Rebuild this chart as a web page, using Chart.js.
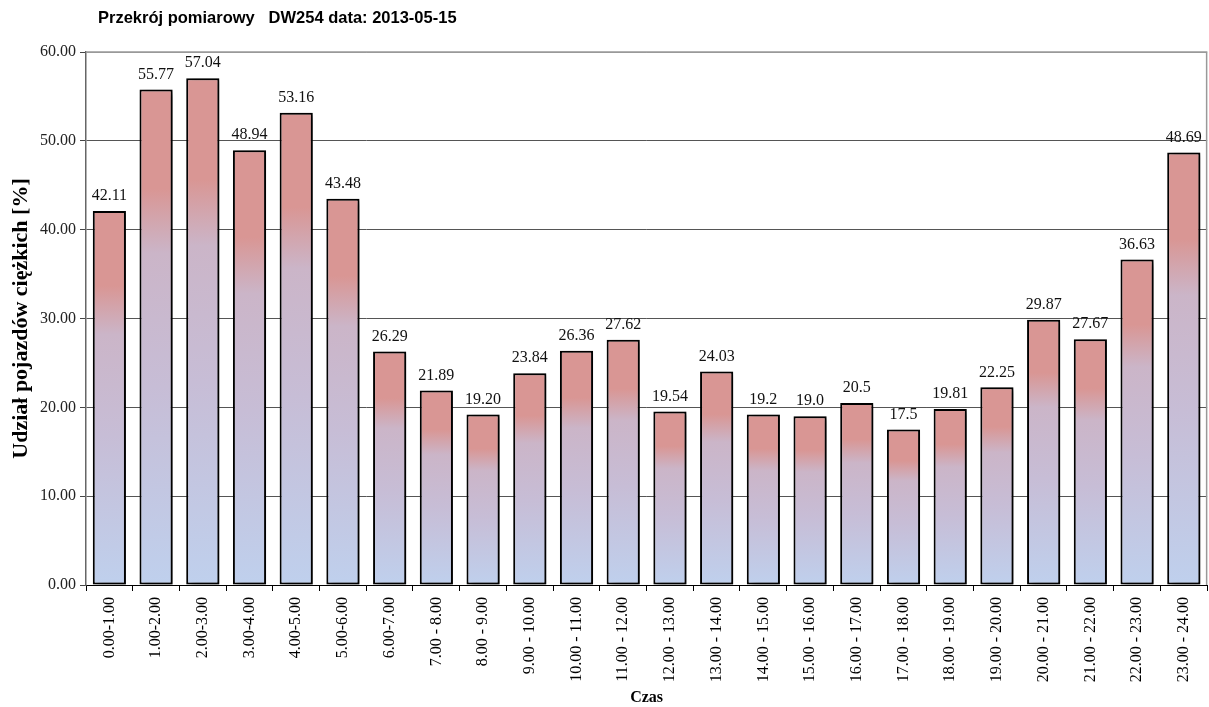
<!DOCTYPE html>
<html>
<head>
<meta charset="utf-8">
<script src="https://cdn.jsdelivr.net/npm/chart.js@4.4.0/dist/chart.umd.min.js"></script>
<style>
  html, body { margin: 0; padding: 0; background: #fff; }
  #wrap { width: 1209px; height: 707px; position: relative; }
</style>
</head>
<body>
<div id="wrap"><canvas id="myChart" width="1209" height="707"></canvas></div>
<script>
const chartTitle = 'Przekrój pomiarowy   DW254 data: 2013-05-15';
const hours = ['0.00-1.00', '1.00-2.00', '2.00-3.00', '3.00-4.00', '4.00-5.00', '5.00-6.00',
  '6.00-7.00', '7.00 - 8.00', '8.00 - 9.00', '9.00 - 10.00', '10.00 - 11.00', '11.00 - 12.00',
  '12.00 - 13.00', '13.00 - 14.00', '14.00 - 15.00', '15.00 - 16.00', '16.00 - 17.00', '17.00 - 18.00',
  '18.00 - 19.00', '19.00 - 20.00', '20.00 - 21.00', '21.00 - 22.00', '22.00 - 23.00', '23.00 - 24.00'];
const heavyShare = [42.11, 55.77, 57.04, 48.94, 53.16, 43.48, 26.29, 21.89, 19.20, 23.84, 26.36, 27.62,
  19.54, 24.03, 19.2, 19.0, 20.5, 17.5, 19.81, 22.25, 29.87, 27.67, 36.63, 48.69];
const valueLabels = ['42.11', '55.77', '57.04', '48.94', '53.16', '43.48', '26.29', '21.89', '19.20', '23.84',
  '26.36', '27.62', '19.54', '24.03', '19.2', '19.0', '20.5', '17.5', '19.81', '22.25', '29.87', '27.67',
  '36.63', '48.69'];

const serif = '"Liberation Serif", "Times New Roman", serif';

function barGradient(context) {
  const chart = context.chart;
  if (!chart.chartArea || context.dataIndex === undefined) return '#d99694';
  const y = chart.scales.y;
  const top = y.getPixelForValue(heavyShare[context.dataIndex]);
  const base = y.getPixelForValue(0);
  if (!isFinite(top) || !isFinite(base) || base - top < 1) return '#d99694';
  const g = chart.ctx.createLinearGradient(0, top, 0, base);
  g.addColorStop(0, '#d99694');
  g.addColorStop(0.2, '#d99694');
  g.addColorStop(0.33, '#cbb5c8');
  g.addColorStop(0.6, '#c7bdd6');
  g.addColorStop(1, '#bfd0ed');
  return g;
}

const shadowPlugin = {
  id: 'barShadow',
  beforeDatasetsDraw(chart) {
    const ctx = chart.ctx;
    ctx.save();
    ctx.shadowColor = 'rgba(0,0,0,0.55)';
    ctx.shadowOffsetX = 4;
    ctx.shadowOffsetY = 2;
    ctx.shadowBlur = 5;
  },
  afterDatasetsDraw(chart) {
    chart.ctx.restore();
  }
};

const labelsPlugin = {
  id: 'valueLabels',
  afterDatasetsDraw(chart) {
    const ctx = chart.ctx;
    const meta = chart.getDatasetMeta(0);
    ctx.save();
    ctx.font = '16px ' + serif;
    ctx.fillStyle = '#111';
    ctx.textAlign = 'center';
    ctx.textBaseline = 'middle';
    meta.data.forEach((bar, i) => {
      ctx.fillText(valueLabels[i], bar.x, bar.y - 15);
    });
    ctx.restore();
  }
};

const framePlugin = {
  id: 'frame',
  beforeDatasetsDraw(chart) {
    const a = chart.chartArea;
    const ctx = chart.ctx;
    ctx.save();
    ctx.strokeStyle = '#999';
    ctx.lineWidth = 1.5;
    ctx.beginPath();
    ctx.moveTo(a.left, a.top);
    ctx.lineTo(a.right - 0.5, a.top);
    ctx.lineTo(a.right - 0.5, a.bottom);
    ctx.stroke();
    ctx.restore();
  },
  afterDraw(chart) {
    const ctx = chart.ctx;
    ctx.save();
    ctx.font = 'bold 16.5px "Liberation Sans", Arial, sans-serif';
    ctx.fillStyle = '#000';
    ctx.textBaseline = 'middle';
    ctx.fillText(chartTitle, 98, 18);
    ctx.restore();
  }
};

const ctx = document.getElementById('myChart').getContext('2d');
const myChart = new Chart(ctx, {
  type: 'bar',
  data: {
    labels: hours,
    datasets: [{
      data: heavyShare,
      backgroundColor: barGradient,
      borderColor: '#000',
      borderWidth: 2,
      borderSkipped: false,
      barPercentage: 0.71,
      categoryPercentage: 1
    }]
  },
  options: {
    responsive: false,
    animation: false,
    devicePixelRatio: 1,
    layout: { padding: { top: 52, right: 1, left: 0, bottom: 0 } },
    plugins: {
      legend: { display: false },
      tooltip: { enabled: false },
      title: { display: false }
    },
    scales: {
      x: {
        afterFit(scale) { scale.height = 122; },
        grid: {
          offset: true,
          drawOnChartArea: false,
          drawTicks: true,
          tickLength: 6,
          color: '#000'
        },
        border: { color: '#000', width: 1 },
        ticks: {
          minRotation: 90,
          maxRotation: 90,
          autoSkip: false,
          padding: 6,
          color: '#000',
          font: { family: serif, size: 16 }
        },
        title: {
          display: true,
          text: 'Czas',
          color: '#000',
          font: { family: serif, size: 16, weight: 'bold' },
          padding: { top: 0, bottom: 0 }
        }
      },
      y: {
        afterFit(scale) { scale.width = 86; },
        min: 0,
        max: 60,
        grid: {
          color: (c) => (c.tick && c.tick.value === 60 ? '#999' : '#555'),
          lineWidth: 1,
          tickLength: 6,
          tickColor: '#444'
        },
        border: { color: '#666', width: 1.5 },
        ticks: {
          stepSize: 10,
          padding: 4,
          color: '#222',
          font: { family: serif, size: 16 },
          callback: (v) => Number(v).toFixed(2)
        },
        title: {
          display: true,
          text: 'Udział pojazdów ciężkich [%]',
          color: '#000',
          font: { family: serif, size: 22, weight: 'bold' },
          padding: { top: 8, bottom: 0 }
        }
      }
    }
  },
  plugins: [framePlugin, shadowPlugin, labelsPlugin]
});
</script>
</body>
</html>
